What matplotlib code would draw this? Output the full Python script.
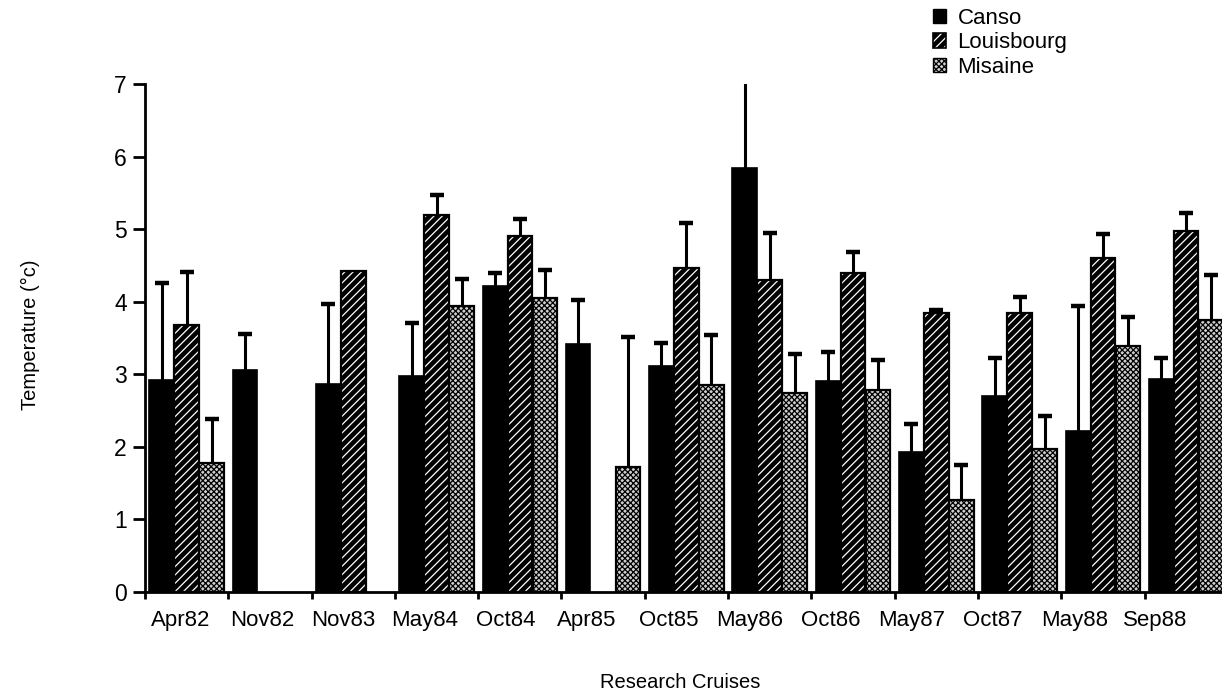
import numpy as np
import matplotlib.pyplot as plt
from matplotlib.patches import Patch

nan = np.nan

cruises = ['Apr82', 'Nov82', 'Nov83', 'May84', 'Oct84', 'Apr85', 'Oct85',
           'May86', 'Oct86', 'May87', 'Oct87', 'May88', 'Sep88']

canso = [2.92, 3.06, 2.87, 2.97, 4.21, 3.41, 3.11, 5.84, 2.90, 1.93, 2.70, 2.22, 2.94]
canso_err = [1.34, 0.50, 1.10, 0.74, 0.19, 0.62, 0.32, 1.30, 0.41, 0.38, 0.53, 1.72, 0.28]

louisbourg = [3.68, nan, 4.42, 5.20, 4.90, nan, 4.47, 4.30, 4.40, 3.85, 3.84, 4.60, 4.98]
louisbourg_err = [0.73, nan, 0.0, 0.27, 0.24, nan, 0.62, 0.65, 0.29, 0.03, 0.22, 0.34, 0.25]

misaine = [1.78, nan, nan, 3.94, 4.05, 1.72, 2.85, 2.74, 2.78, 1.27, 1.97, 3.39, 3.75]
misaine_err = [0.60, nan, nan, 0.38, 0.39, 1.79, 0.69, 0.54, 0.42, 0.48, 0.46, 0.40, 0.62]

plt.rcParams['font.family'] = ['Liberation Sans', 'DejaVu Sans']
plt.rcParams['hatch.linewidth'] = 0.9

fig = plt.figure(figsize=(12.22, 6.96), dpi=100)
ax = fig.add_axes([145 / 1222, 1 - 591.7 / 696, 1 - 145 / 1222, (591.7 - 84.2) / 696])

x = np.arange(len(cruises))
w = 0.295
offs = [-0.3, 0.0, 0.3]


def errs(xpos, vals, err):
    vals = np.asarray(vals, float)
    err = np.asarray(err, float)
    ok = ~np.isnan(vals) & ~np.isnan(err) & (err > 0)
    ax.vlines(xpos[ok], vals[ok], vals[ok] + err[ok], color='black', lw=2.2, zorder=3)
    ax.plot(xpos[ok], vals[ok] + err[ok], ls='none', marker='_', ms=10, mew=3.2,
            color='black', zorder=3)


# Canso - solid black
ax.bar(x + offs[0], canso, w, color='black', edgecolor='black', lw=1.2, zorder=2)
errs(x + offs[0], canso, canso_err)

# Louisbourg - black with white diagonal lines
ax.bar(x + offs[1], louisbourg, w, color='black', edgecolor='white', hatch='////', lw=0, zorder=2)
ax.bar(x + offs[1], louisbourg, w, fill=False, edgecolor='black', lw=1.6, zorder=2)
errs(x + offs[1], louisbourg, louisbourg_err)

# Misaine - fine checker
ax.bar(x + offs[2], misaine, w, color='#cfcfcf', edgecolor='black', hatch='xxxxxx', lw=1.6, zorder=2)
errs(x + offs[2], misaine, misaine_err)

ax.set_ylim(0, 7)
ax.set_xlim(-0.5, 12.43)
ax.set_yticks(range(8))
ax.tick_params(axis='y', direction='out', length=9, width=2, labelsize=16.5, pad=4)

# boundary ticks (unlabelled) and cruise labels
ax.set_xticks(np.arange(13) - 0.5)
ax.set_xticklabels([])
ax.tick_params(axis='x', which='major', direction='out', length=5, width=2)
ax.set_xticks(-0.068 + 0.975 * x, labels=cruises, minor=True)
ax.tick_params(axis='x', which='minor', length=0, labelsize=16, pad=13)

for s in ['top', 'right']:
    ax.spines[s].set_visible(False)
ax.spines['left'].set_linewidth(2)
ax.spines['bottom'].set_linewidth(2)

fig.text(30 / 1222, 1 - 335 / 696, 'Temperature (°c)', rotation=90, ha='center', va='center', fontsize=14.5)
fig.text(680 / 1222, 1 - 683 / 696, 'Research Cruises', ha='center', va='center', fontsize=14.5)

handles = [Patch(facecolor='black', edgecolor='black'),
           (Patch(facecolor='black', edgecolor='white', hatch='////', lw=0),
            Patch(fill=False, edgecolor='black', lw=1.2)),
           Patch(facecolor='#cfcfcf', edgecolor='black', hatch='xxxxxx')]
fig.legend(handles, ['Canso', 'Louisbourg', 'Misaine'], loc='upper left',
           bbox_to_anchor=(933 / 1222, 1 - 8 / 696), frameon=False, fontsize=16,
           handlelength=0.6, handleheight=0.6, handletextpad=0.5,
           labelspacing=0.15, borderaxespad=0, borderpad=0)

fig.savefig('out.png', dpi=100)
